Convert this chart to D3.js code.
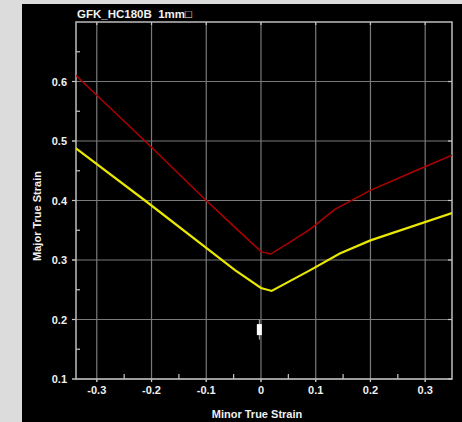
<!DOCTYPE html>
<html><head><meta charset="utf-8">
<script src="https://cdn.jsdelivr.net/npm/d3@7"></script>
<style>
html,body{margin:0;padding:0;background:#dcdcdc;}
svg{display:block;}
text{font-family:"Liberation Sans",Arial,sans-serif;font-weight:bold;fill:#f0f0f0;white-space:pre;}
</style></head>
<body>
<svg id="c" width="462" height="422"></svg>
<script>
const title = "GFK_HC180B  1mm\u25A1";
const xLabel = "Minor True Strain";
const yLabel = "Major True Strain";
const xTicks = [-0.3, -0.2, -0.1, 0, 0.1, 0.2, 0.3];
const xTickLabels = ["-0.3", "-0.2", "-0.1", "0", "0.1", "0.2", "0.3"];
const xMinor = [-0.25, -0.15, -0.05, 0.05, 0.15, 0.25];
const yTicks = [0.1, 0.2, 0.3, 0.4, 0.5, 0.6];
const yTickLabels = ["0.1", "0.2", "0.3", "0.4", "0.5", "0.6"];
const yMinor = [0.15, 0.25, 0.35, 0.45, 0.55, 0.65];

const redX = [-0.338, -0.212, -0.1, -0.05, 0, 0.0177, 0.053, 0.09, 0.135, 0.2, 0.275, 0.349];
const redY = [0.61, 0.5, 0.4, 0.357, 0.314, 0.31, 0.33, 0.352, 0.385, 0.417, 0.447, 0.476];
const yellowX = [-0.338, -0.212, -0.0475, 0, 0.0195, 0.09, 0.144, 0.2, 0.349];
const yellowY = [0.4877, 0.4, 0.283, 0.253, 0.248, 0.283, 0.311, 0.333, 0.379];
const markerX = [-0.003];
const markerY = [0.183];

const svg = d3.select("#c");
const L = 76, R = 452, T = 22, B = 379;
const x = d3.scaleLinear().domain([-0.338, 0.349]).range([L, R]);
const y = d3.scaleLinear().domain([0.1, 0.7]).range([B, T]);

svg.append("rect").attr("x", 22).attr("y", 4).attr("width", 440).attr("height", 418).attr("fill", "#000");

// grid
const g = svg.append("g");
g.selectAll(".vx").data(xTicks).join("line")
  .attr("x1", d => x(d)).attr("x2", d => x(d)).attr("y1", T).attr("y2", B + 3)
  .attr("stroke", "#7a7a7a").attr("stroke-width", 1.2);
g.selectAll(".hy").data(yTicks).join("line")
  .attr("x1", L - 4).attr("x2", R).attr("y1", d => y(d)).attr("y2", d => y(d))
  .attr("stroke", "#7a7a7a").attr("stroke-width", 1.2);
// major tick stubs (brighter)
g.selectAll(".ty").data(yTicks).join("line")
  .attr("x1", L - 4).attr("x2", L).attr("y1", d => y(d)).attr("y2", d => y(d))
  .attr("stroke", "#c8c8c8").attr("stroke-width", 1.2);
g.selectAll(".ty2").data(yTicks).join("line")
  .attr("x1", R - 4).attr("x2", R).attr("y1", d => y(d)).attr("y2", d => y(d))
  .attr("stroke", "#c8c8c8").attr("stroke-width", 1.2);
g.selectAll(".tx").data(xTicks).join("line")
  .attr("x1", d => x(d)).attr("x2", d => x(d)).attr("y1", B).attr("y2", B + 3)
  .attr("stroke", "#c8c8c8").attr("stroke-width", 1.2);
g.selectAll(".tx2").data(xTicks).join("line")
  .attr("x1", d => x(d)).attr("x2", d => x(d)).attr("y1", T).attr("y2", T + 3)
  .attr("stroke", "#c8c8c8").attr("stroke-width", 1.2);
// minor ticks
g.selectAll(".mx").data(xMinor).join("line")
  .attr("x1", d => x(d)).attr("x2", d => x(d)).attr("y1", B - 5).attr("y2", B)
  .attr("stroke", "#c8c8c8").attr("stroke-width", 1.2);
g.selectAll(".my").data(yMinor).join("line")
  .attr("x1", L).attr("x2", L + 4).attr("y1", d => y(d)).attr("y2", d => y(d))
  .attr("stroke", "#c8c8c8").attr("stroke-width", 1.2);

// frame
svg.append("rect").attr("x", L).attr("y", T).attr("width", R - L).attr("height", B - T)
  .attr("fill", "none").attr("stroke", "#bdbdbd").attr("stroke-width", 1.5);

// tick labels
svg.selectAll(".xl").data(xTicks).join("text")
  .attr("x", d => x(d)).attr("y", 394).attr("text-anchor", "middle")
  .attr("font-size", 11).text((d, i) => xTickLabels[i]);
svg.selectAll(".yl").data(yTicks).join("text")
  .attr("x", 67).attr("y", d => y(d) + 4).attr("text-anchor", "end")
  .attr("font-size", 11).text((d, i) => yTickLabels[i]);

// titles
svg.append("text").attr("x", 77).attr("y", 18).attr("font-size", 11.5)
  .attr("xml:space", "preserve").text(title);
svg.append("text").attr("x", 257).attr("y", 418).attr("text-anchor", "middle").attr("font-size", 11).text(xLabel);
svg.append("text").attr("transform", "translate(41,216) rotate(-90)").attr("text-anchor", "middle").attr("font-size", 11).text(yLabel);

// curves
const line = d3.line().x(d => x(d[0])).y(d => y(d[1]));
const clip = svg.append("clipPath").attr("id", "cp").append("rect")
  .attr("x", L).attr("y", T).attr("width", R - L).attr("height", B - T);
svg.append("path").datum(redX.map((v, i) => [v, redY[i]]))
  .attr("d", line).attr("fill", "none").attr("stroke", "#b00000").attr("stroke-width", 1.5)
  .attr("clip-path", "url(#cp)");
svg.append("path").datum(yellowX.map((v, i) => [v, yellowY[i]]))
  .attr("d", line).attr("fill", "none").attr("stroke", "#e8e800").attr("stroke-width", 2.2)
  .attr("clip-path", "url(#cp)");

// marker
const m = svg.selectAll(".mk").data(markerX.map((v, i) => [v, markerY[i]])).join("g");
m.append("line").attr("x1", d => x(d[0])).attr("x2", d => x(d[0]))
  .attr("y1", d => y(d[1]) - 10).attr("y2", d => y(d[1]) + 10)
  .attr("stroke", "#bbbbbb").attr("stroke-width", 1);
m.append("rect").attr("x", d => x(d[0]) - 2.5).attr("y", d => y(d[1]) - 5.5)
  .attr("width", 5).attr("height", 11).attr("fill", "#ffffff");
</script>
</body></html>
